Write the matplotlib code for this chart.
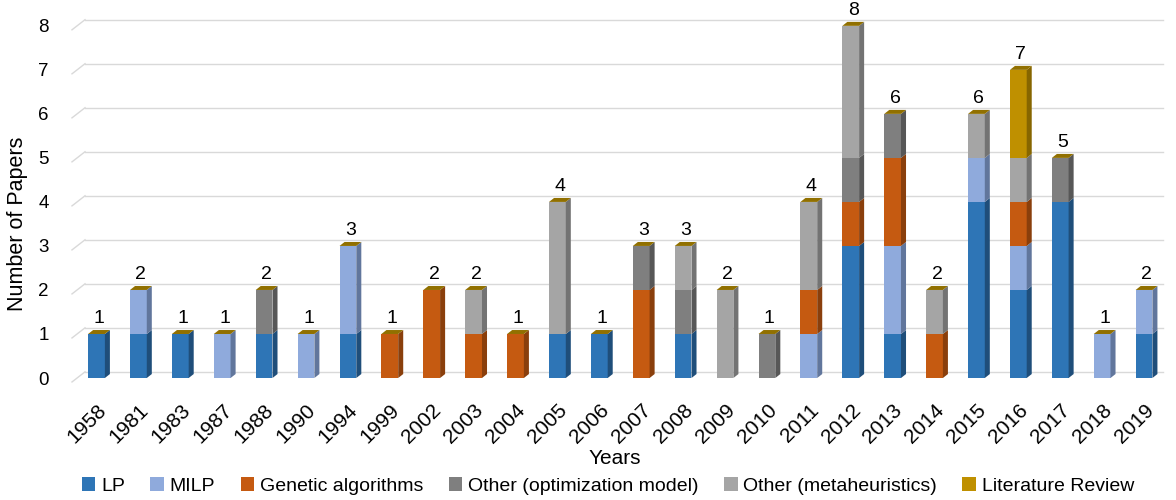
import matplotlib
matplotlib.use("Agg")
import matplotlib.pyplot as plt
from matplotlib.patches import Polygon, Patch
import numpy as np

plt.rcParams['font.family'] = ['Liberation Sans', 'DejaVu Sans']

years = ["1958", "1981", "1983", "1987", "1988", "1990", "1994", "1999", "2002",
         "2003", "2004", "2005", "2006", "2007", "2008", "2009", "2010", "2011",
         "2012", "2013", "2014", "2015", "2016", "2017", "2018", "2019"]

lp   = [1, 1, 1, 0, 1, 0, 1, 0, 0, 0, 0, 1, 1, 0, 1, 0, 0, 0, 3, 1, 0, 4, 2, 4, 0, 1]
milp = [0, 1, 0, 1, 0, 1, 2, 0, 0, 0, 0, 0, 0, 0, 0, 0, 0, 1, 0, 2, 0, 1, 1, 0, 1, 1]
ga   = [0, 0, 0, 0, 0, 0, 0, 1, 2, 1, 1, 0, 0, 2, 0, 0, 0, 1, 1, 2, 1, 0, 1, 0, 0, 0]
opt  = [0, 0, 0, 0, 1, 0, 0, 0, 0, 0, 0, 0, 0, 1, 1, 0, 1, 0, 1, 1, 0, 0, 0, 1, 0, 0]
meta = [0, 0, 0, 0, 0, 0, 0, 0, 0, 1, 0, 3, 0, 0, 1, 2, 0, 2, 3, 0, 1, 1, 1, 0, 0, 0]
lit  = [0, 0, 0, 0, 0, 0, 0, 0, 0, 0, 0, 0, 0, 0, 0, 0, 0, 0, 0, 0, 0, 0, 2, 0, 0, 0]

series = [
    ("LP", lp, "#2E75B6", "#1F4E7A"),
    ("MILP", milp, "#8FAADC", "#61769C"),
    ("Genetic algorithms", ga, "#C55A11", "#8A3F0C"),
    ("Other (optimization model)", opt, "#7F7F7F", "#575757"),
    ("Other (metaheuristics)", meta, "#A5A5A5", "#737373"),
    ("Literature Review", lit, "#BF9000", "#876600"),
]
cap_color = "#917000"

x = np.arange(len(years))
w = 0.40      # front face width
dx = 0.12     # depth offset (x)
dy = 0.09     # depth offset (y)

fig = plt.figure(figsize=(11.76, 5.0), dpi=100)
ax = fig.add_axes([60 / 1176, 105 / 500, 1110 / 1176, 385 / 500])
ax.set_xlim(-0.871, 25.62)
ax.set_ylim(-0.386, 8.36)
for s in ax.spines.values():
    s.set_visible(False)

# back-wall gridlines with the short slanted side-wall piece
for k in range(9):
    gy = k + 0.14
    ax.plot([-0.274, 25.45], [gy, gy], color="#D9D9D9", lw=1, zorder=0)
    ax.plot([-0.585, -0.274], [gy - 0.23, gy], color="#D9D9D9", lw=1, zorder=0)

bottom = np.zeros(len(years))
for name, vals, front, side in series:
    vals = np.array(vals, dtype=float)
    ax.bar(x, vals, width=w, bottom=bottom, color=front, label=name, zorder=2)
    for i in range(len(years)):
        if vals[i] <= 0:
            continue
        xr = x[i] + w / 2
        b, t = bottom[i], bottom[i] + vals[i]
        ax.add_patch(Polygon([(xr, b), (xr + dx, b + dy), (xr + dx, t + dy), (xr, t)],
                             closed=True, facecolor=side, edgecolor="none", zorder=2))
    bottom += vals

totals = bottom
for i in range(len(years)):
    t = totals[i]
    xl, xr = x[i] - w / 2, x[i] + w / 2
    ax.add_patch(Polygon([(xl, t), (xr, t), (xr + dx, t + dy), (xl + dx, t + dy)],
                         closed=True, facecolor=cap_color, edgecolor="none", zorder=3))
    ax.text(x[i] + dx / 2, t + dy + 0.06, f"{int(t)}", ha="center", va="bottom",
            fontsize=14, color="#000000")

ax.set_yticks(range(9))
ax.set_yticklabels([str(k) for k in range(9)], fontsize=13.5)
ax.set_xticks(x)
ax.set_xticklabels(years, rotation=45, ha="right", va="top", rotation_mode="anchor",
                   fontsize=15)
ax.tick_params(axis="both", length=0)
ax.tick_params(axis="y", pad=8)
ax.tick_params(axis="x", pad=4)

fig.text(615 / 1176, 1 - 458 / 500, "Years", ha="center", va="center", fontsize=15)
fig.text(18 / 1176, 1 - 224 / 500, "Number of Papers", ha="center", va="center",
         rotation=90, fontsize=15.5)

handles = [Patch(facecolor=c, edgecolor="none", label=n) for n, _, c, _ in series]
fig.legend(handles=handles, loc="center", bbox_to_anchor=(608 / 1176, 1 - 486 / 500),
           ncol=6, frameon=False, fontsize=14, handlelength=0.7, handleheight=0.7,
           handletextpad=0.3, columnspacing=1.3)

fig.savefig("out.png", dpi=100)
